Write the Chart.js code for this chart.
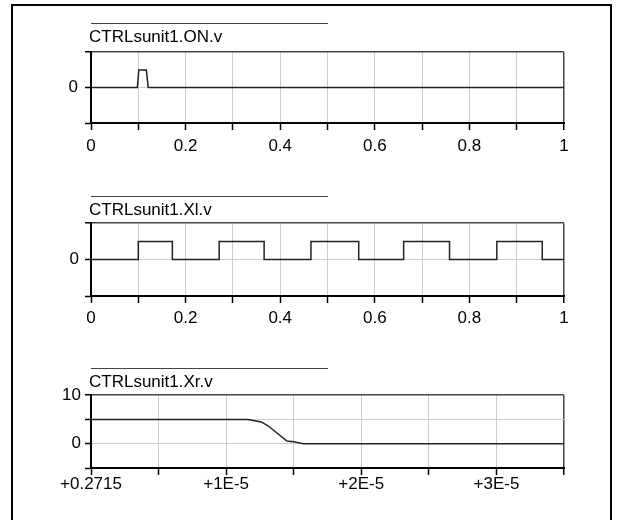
<!DOCTYPE html>
<html>
<head>
<meta charset="utf-8">
<script src="https://cdn.jsdelivr.net/npm/chart.js@4/dist/chart.umd.min.js"></script>
<style>
  html, body { margin: 0; padding: 0; background: #fff; }
  body { width: 618px; height: 520px; position: relative; overflow: hidden;
    font-family: 'Liberation Sans', Arial, sans-serif; }
  .frame { position: absolute; left: 11px; top: 4px; width: 601px; height: 540px;
    border: 2px solid #000; box-sizing: border-box; }
  .ttl { position: absolute; left: 91px; width: 237px; border-top: 1px solid #444;
    font-size: 17px; line-height: 20px; padding-top: 3px; color: #000; text-indent: -2px; z-index: 2; }
  canvas { position: absolute; left: 0; }
</style>
</head>
<body>
<div class="frame"></div>
<div class="ttl" style="top:23px">CTRLsunit1.ON.v</div>
<div class="ttl" style="top:196px">CTRLsunit1.Xl.v</div>
<div class="ttl" style="top:368px">CTRLsunit1.Xr.v</div>
<canvas id="c1" width="618" height="125" style="top:35px"></canvas>
<canvas id="c2" width="618" height="125" style="top:207px"></canvas>
<canvas id="c3" width="618" height="125" style="top:381px"></canvas>
<script>
// CTRLsunit1.ON.v
const onTimes = [0, 0.098, 0.101, 0.117, 0.121, 1];
const onValues = [0, 0, 0.5, 0.5, 0, 0];
// CTRLsunit1.Xl.v (step changes)
const xlTimes = [0, 0.1, 0.172, 0.271, 0.366, 0.465, 0.566, 0.661, 0.758, 0.858, 0.954, 1];
const xlValues = [0, 0.5, 0, 0.5, 0, 0.5, 0, 0.5, 0, 0.5, 0, 0];
// CTRLsunit1.Xr.v, time in 1E-5 after 0.2715
const xrTimes = [0, 1.16, 1.26, 1.31, 1.45, 1.50, 1.57, 3.5];
const xrValues = [5, 5, 4.5, 3.7, 0.55, 0.4, 0, 0];
const xrTickLabels = ['+0.2715', '+1E-5', '+2E-5', '+3E-5'];

const FONT = { family: "'Liberation Sans', Arial, sans-serif", size: 17 };
const near = (a, b) => Math.abs(a - b) < 1e-9;

function panel(id, times, values, o) {
  const ctx = document.getElementById(id).getContext('2d');
  return new Chart(ctx, {
    type: 'line',
    data: { datasets: [{
      data: times.map((t, i) => ({ x: t, y: values[i] })),
      borderColor: '#222', borderWidth: 1.5, pointRadius: 0,
      tension: 0, stepped: o.stepped || false, fill: false
    }] },
    options: {
      responsive: false, animation: false,
      layout: { padding: { top: 12, right: 54, left: 0, bottom: 0 } },
      plugins: { legend: { display: false }, tooltip: { enabled: false } },
      scales: {
        x: {
          type: 'linear', min: o.xMin, max: o.xMax,
          afterFit: s => { s.height = o.xh; },
          border: { color: '#000', width: 2 },
          grid: {
            color: c => near(c.tick.value, o.xMax) ? '#444' : '#cccccc',
            lineWidth: c => near(c.tick.value, o.xMax) ? 1.5 : 1,
            tickColor: '#000', tickLength: 7, tickWidth: 1.5
          },
          ticks: { stepSize: o.xStep, autoSkip: false, maxRotation: 0, padding: o.xPad,
            color: '#000', font: FONT, callback: o.xLabel }
        },
        y: {
          min: o.yMin, max: o.yMax,
          afterFit: s => { s.width = 91; },
          border: { color: '#000', width: 2 },
          grid: {
            color: c => near(c.tick.value, o.yMax) ? '#444' : '#cccccc',
            lineWidth: c => near(c.tick.value, o.yMax) ? 1.5 : 1,
            tickColor: '#000', tickLength: 6, tickWidth: 1.5
          },
          ticks: { stepSize: o.yStep, autoSkip: false, padding: o.yPad,
            color: '#000', font: FONT, callback: o.yLabel }
        }
      }
    }
  });
}

const unitLabel = v => {
  const k = Math.round(v * 10);
  return k % 2 === 0 ? String(k / 10) : '';
};

panel('c1', onTimes, onValues, {
  xMin: 0, xMax: 1, xStep: 0.1, xh: 37, xPad: 6, xLabel: unitLabel,
  yMin: -1, yMax: 1, yStep: 1, yPad: 7, yLabel: v => (v === 0 ? '0' : '')
});
panel('c2', xlTimes, xlValues, {
  stepped: true,
  xMin: 0, xMax: 1, xStep: 0.1, xh: 36, xPad: 5, xLabel: unitLabel,
  yMin: -1, yMax: 1, yStep: 1, yPad: 6, yLabel: v => (v === 0 ? '0' : '')
});
panel('c3', xrTimes, xrValues, {
  xMin: 0, xMax: 3.5, xStep: 0.5, xh: 38, xPad: -1,
  xLabel: v => (Number.isInteger(v) ? (xrTickLabels[v] || '') : ''),
  yMin: -5, yMax: 10, yStep: 5, yPad: 4, yLabel: v => (v === 0 || v === 10 ? String(v) : '')
});
</script>
</body>
</html>
